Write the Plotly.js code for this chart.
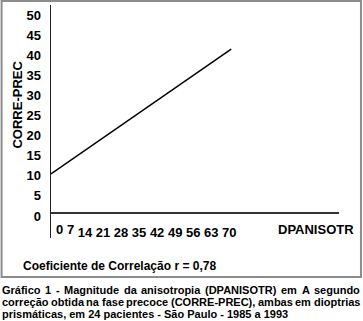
<!DOCTYPE html>
<html><head><meta charset="utf-8">
<script src="https://cdn.plot.ly/plotly-3.0.1.min.js"></script>
<style>html,body{margin:0;padding:0;background:#fff}#chart{width:363px;height:321px}</style>
</head><body><div id="chart"></div>
<script>
// ---- data ----
const xTicks = [0, 7, 14, 21, 28, 35, 42, 49, 56, 63, 70];
const yTicks = [0, 5, 10, 15, 20, 25, 30, 35, 40, 45, 50];
const regX = [0, 70];
const regY = [10.5, 41.5];
const xTitle = 'DPANISOTR';
const yTitle = 'CORRE-PREC';
const corrText = 'Coeficiente de Correlação r = 0,78';
const captionLines = [
  'Gráfico 1 - Magnitude da anisotropia (DPANISOTR) em A segundo',
  'correção obtida na fase precoce (CORRE-PREC), ambas em dioptrias',
  'prismáticas, em 24 pacientes - São Paulo - 1985 a 1993'
];

// ---- layout geometry (pixels) ----
const W = 363, H = 321;
const L = 50.5, R = 339, T = 5, B = 238;
const pw = R - L, ph = B - T;
const kx = (231 - L) / 70;          // px per x unit
const y0px = 216, ky = 4.02;        // px position of y=0, px per y unit
const xAxisPx = 212;                // horizontal axis line
const tickRowPx = 229.5;            // centre of x tick labels
const px2x = p => (p - L) / pw;
const py2y = p => (B - p) / ph;

const FAM = 'Liberation Sans, Arial, sans-serif';
const tickFont = {family: FAM, size: 13, color: '#000', weight: 'bold'};

const annotations = [];
// single-digit x labels are set like text in the reference: nudge them right
const smallShift = {0: 8, 7: 1.5};
xTicks.filter(v => v < 10).forEach(v => {
  annotations.push({xref: 'x', x: v, xshift: smallShift[v], yref: 'paper', y: py2y(tickRowPx),
    yanchor: 'middle', xanchor: 'center', text: String(v), showarrow: false, font: tickFont, borderpad: 0, borderwidth: 0});
});
annotations.push({xref: 'paper', x: px2x(278), xanchor: 'left', yref: 'paper', y: py2y(tickRowPx), yanchor: 'middle',
  text: xTitle, showarrow: false, font: tickFont, borderpad: 0, borderwidth: 0});
annotations.push({xref: 'paper', x: px2x(16), xanchor: 'center', yref: 'paper', y: py2y(105), yanchor: 'middle',
  text: yTitle, textangle: -90, showarrow: false, font: tickFont, borderpad: 0, borderwidth: 0});
annotations.push({xref: 'paper', x: px2x(22), xanchor: 'left', yref: 'paper', y: py2y(266), yanchor: 'middle',
  text: corrText, showarrow: false, font: {family: FAM, size: 12, color: '#000', weight: 'bold'}, borderpad: 0, borderwidth: 0});

// caption: justified lines built from measured word widths
const capFont = {family: FAM, size: 11, color: '#000', weight: 'bold'};
const cv = document.createElement('canvas').getContext('2d');
cv.font = 'bold 11px "Liberation Sans", Arial, sans-serif';
const capLeft = 1, capRight = 360;
const capY = [290, 302, 314];
captionLines.forEach((line, i) => {
  if (i < captionLines.length - 1) {
    const words = line.split(' ');
    const widths = words.map(w => cv.measureText(w).width);
    const total = widths.reduce((a, b) => a + b, 0);
    const gap = (capRight - capLeft - total) / (words.length - 1);
    let x = capLeft;
    words.forEach((w, j) => {
      annotations.push({xref: 'paper', x: px2x(x), xanchor: 'left', yref: 'paper', y: py2y(capY[i]), yanchor: 'middle',
        text: w, showarrow: false, font: capFont, borderpad: 0, borderwidth: 0});
      x += widths[j] + gap;
    });
  } else {
    annotations.push({xref: 'paper', x: px2x(capLeft), xanchor: 'left', yref: 'paper', y: py2y(capY[i]), yanchor: 'middle',
      text: line, showarrow: false, font: capFont, borderpad: 0, borderwidth: 0});
  }
});

const shapes = [{type: 'rect', xref: 'paper', yref: 'paper', x0: px2x(1), x1: px2x(361), y0: py2y(277), y1: py2y(1),
  line: {color: '#8c8c8c', width: 2}, fillcolor: 'rgba(0,0,0,0)', layer: 'below'}];

const trace = {x: regX, y: regY, type: 'scatter', mode: 'lines', line: {color: '#000', width: 1.5}, hoverinfo: 'skip'};

const bigTicks = xTicks.filter(v => v >= 10);
const layout = {
  width: W, height: H,
  margin: {l: L, r: W - R, t: T, b: H - B, pad: 0},
  paper_bgcolor: '#fff', plot_bgcolor: '#fff',
  showlegend: false,
  xaxis: {range: [0, pw / kx], anchor: 'free', position: py2y(xAxisPx), showline: true, linecolor: '#333', linewidth: 1.5,
    showgrid: false, zeroline: false, ticks: '', tickmode: 'array', tickvals: bigTicks, ticktext: bigTicks.map(String),
    tickfont: tickFont, ticklabelshift: -2, ticklabelstandoff: 8},
  yaxis: {range: [-(B - y0px) / ky, (y0px - T) / ky], showline: true, linecolor: '#222', linewidth: 1.5,
    showgrid: false, zeroline: false, ticks: '', tickmode: 'array', tickvals: yTicks, ticktext: yTicks.map(String),
    tickfont: tickFont, ticklabelstandoff: 6},
  annotations: annotations,
  shapes: shapes
};
Plotly.newPlot('chart', [trace], layout, {displayModeBar: false, staticPlot: true});
</script></body></html>
